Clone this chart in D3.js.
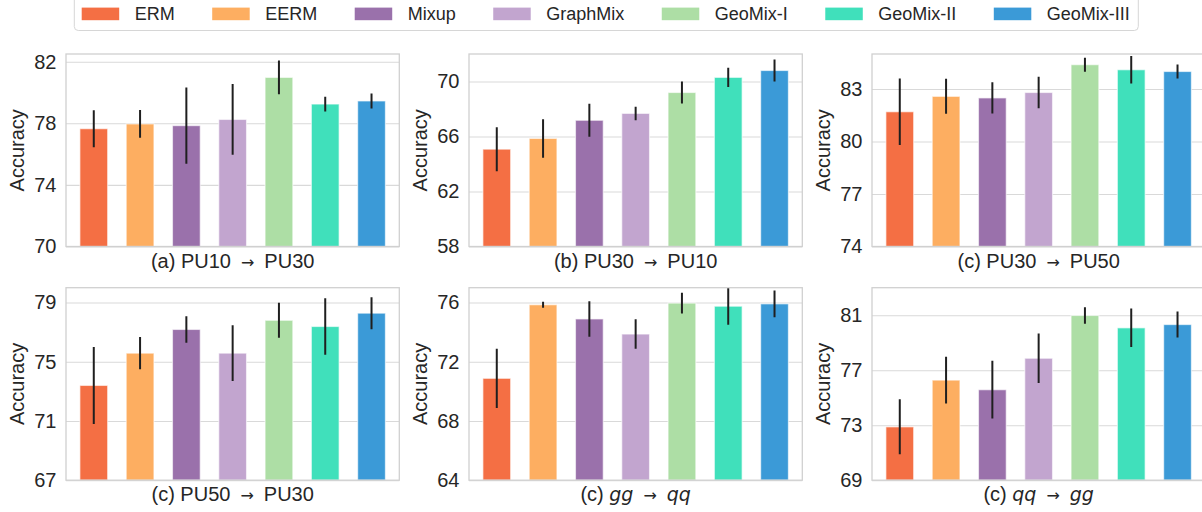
<!DOCTYPE html>
<html>
<head>
<meta charset="utf-8">
<script src="https://cdn.jsdelivr.net/npm/d3@7"></script>
<style>
  html, body { margin: 0; padding: 0; background: #ffffff; }
  svg { display: block; }
  text { font-family: "Liberation Sans", Arial, sans-serif; fill: #262626; }
</style>
</head>
<body>
<svg id="chart" width="1202" height="512"></svg>
<script>
// ---------------- data ----------------
const methods = ["ERM", "EERM", "Mixup", "GraphMix", "GeoMix-I", "GeoMix-II", "GeoMix-III"];

const meanA = [77.65, 77.96, 77.85, 78.25, 80.98, 79.25, 79.45];
const errA  = [1.2, 0.9, 2.47, 2.3, 1.1, 0.48, 0.49];
const meanB = [65.08, 65.86, 67.18, 67.68, 69.2, 70.3, 70.8];
const errB  = [1.6, 1.4, 1.2, 0.49, 0.8, 0.7, 0.8];
const meanC = [81.7, 82.58, 82.49, 82.8, 84.39, 84.1, 84.0];
const errC  = [1.9, 1.0, 0.89, 0.9, 0.4, 0.78, 0.4];
const meanD = [73.4, 75.58, 77.18, 75.58, 77.8, 77.38, 78.28];
const errD  = [2.6, 1.09, 0.9, 1.88, 1.18, 1.9, 1.08];
const meanE = [70.88, 75.85, 74.89, 73.87, 75.96, 75.75, 75.91];
const errE  = [2.0, 0.2, 1.2, 1.0, 0.7, 1.25, 0.9];
const meanF = [72.88, 76.28, 75.58, 77.87, 80.98, 80.08, 80.32];
const errF  = [2.0, 1.7, 2.1, 1.8, 0.6, 1.4, 0.95];

const yLimits = [[70, 82.5], [58, 72], [74, 85], [67, 80], [64, 77], [69, 83]];
const yTicks = [[70, 74, 78, 82], [58, 62, 66, 70], [74, 77, 80, 83],
                [67, 71, 75, 79], [64, 68, 72, 76], [69, 73, 77, 81]];

const labelPrefix = ["(a) ", "(b) ", "(c) ", "(c) ", "(c) ", "(c) "];
const labelSource = ["PU10", "PU30", "PU30", "PU50", "gg", "qq"];
const labelTarget = ["PU30", "PU10", "PU50", "PU30", "qq", "gg"];
const labelItalic = [false, false, false, false, true, true];

const yLabel = "Accuracy";

// ---------------- style / layout ----------------
const colors = ["#f46f44", "#fdae61", "#9a71ab", "#c2a5cf", "#addea5", "#40e0bb", "#3b9ad7"];
const colLeft = [66, 469, 872];
const rowTop = [54, 287.7];
const plotW = 333.3, plotH = 192.5;
const gridColor = "#d9d9d9";

const means = [meanA, meanB, meanC, meanD, meanE, meanF];
const errs = [errA, errB, errC, errD, errE, errF];

const svg = d3.select("#chart");
const defs = svg.append("defs");

means.forEach((mean, p) => {
  const left = colLeft[p % 3];
  const top = rowTop[Math.floor(p / 3)];
  const x = d3.scaleLinear().domain([-0.6, methods.length - 0.4]).range([left, left + plotW]);
  const y = d3.scaleLinear().domain(yLimits[p]).range([top + plotH, top]);
  const g = svg.append("g");

  defs.append("clipPath").attr("id", "clip" + p)
    .append("rect").attr("x", left).attr("y", top).attr("width", plotW).attr("height", plotH);

  // grid
  const grid = g.append("g").attr("transform", `translate(${left},0)`)
    .call(d3.axisLeft(y).tickValues(yTicks[p]).tickSize(-plotW).tickFormat(""));
  grid.select(".domain").remove();
  grid.selectAll("line").attr("stroke", gridColor).attr("stroke-width", 1.1);

  // bars
  const bw = 0.6;
  const data = methods.map((m, i) => ({ i, m, v: mean[i], e: errs[p][i] }));
  const plot = g.append("g").attr("clip-path", `url(#clip${p})`);
  plot.selectAll("rect.bar").data(data).enter().append("rect")
    .attr("class", "bar")
    .attr("x", d => x(d.i - bw / 2))
    .attr("width", d => x(d.i + bw / 2) - x(d.i - bw / 2))
    .attr("y", d => y(d.v))
    .attr("height", d => y(yLimits[p][0]) - y(d.v))
    .attr("fill", d => colors[d.i])
    .attr("stroke", "rgba(255,255,255,0.6)")
    .attr("stroke-width", 1.2);

  // error bars
  plot.selectAll("line.err").data(data).enter().append("line")
    .attr("class", "err")
    .attr("x1", d => x(d.i)).attr("x2", d => x(d.i))
    .attr("y1", d => y(d.v - d.e)).attr("y2", d => y(d.v + d.e))
    .attr("stroke", "#1f1f1f").attr("stroke-width", 2);

  // spines
  g.append("rect").attr("x", left).attr("y", top).attr("width", plotW).attr("height", plotH)
    .attr("fill", "none").attr("stroke", "#d0d0d0").attr("stroke-width", 1.3);

  // y axis tick labels
  const ax = g.append("g").attr("transform", `translate(${left},0)`)
    .call(d3.axisLeft(y).tickValues(yTicks[p]).tickSize(0).tickPadding(9.5).tickFormat(d3.format("d")));
  ax.select(".domain").remove();
  ax.selectAll("text").attr("font-size", 20)
    .attr("font-family", '"Liberation Sans", Arial, sans-serif').attr("fill", "#262626");

  // y label
  g.append("text")
    .attr("transform", `translate(${left - 41.7},${top + plotH / 2}) rotate(-90)`)
    .attr("text-anchor", "middle").attr("font-size", 20).text(yLabel);

  // x label
  const t = g.append("text").attr("x", left + plotW / 2).attr("y", top + plotH + 21)
    .attr("text-anchor", "middle").attr("font-size", 20);
  t.append("tspan").text(labelPrefix[p]);
  const it = labelItalic[p];
  t.append("tspan").text(labelSource[p])
    .attr("font-style", it ? "italic" : null)
    .attr("font-family", it ? '"DejaVu Sans", sans-serif' : null)
    .attr("font-size", it ? 19 : null);
  t.append("tspan").attr("dx", 10).attr("font-family", '"DejaVu Sans", sans-serif')
    .attr("font-size", 16).text("\u2192");
  t.append("tspan").attr("dx", 10).text(labelTarget[p])
    .attr("font-style", it ? "italic" : null)
    .attr("font-family", it ? '"DejaVu Sans", sans-serif' : null)
    .attr("font-size", it ? 19 : null);
});

// ---------------- legend ----------------
const lg = svg.append("g");
const box = lg.append("rect").attr("x", 74.3).attr("y", -4).attr("height", 34.5).attr("rx", 4)
  .attr("fill", "#ffffff").attr("stroke", "#d6d6d6").attr("stroke-width", 1);
let cx = 81.7;
methods.forEach((m, i) => {
  lg.append("rect").attr("x", cx).attr("y", 7.6).attr("width", 37.5).attr("height", 12.6)
    .attr("fill", colors[i]);
  const tx = lg.append("text").attr("x", cx + 53).attr("y", 20).attr("font-size", 18).text(m);
  const w = tx.node().getComputedTextLength();
  cx = cx + 53 + w + 37.5;
});
box.attr("width", cx - 37.5 + 8.5 - 74.3);
</script>
</body>
</html>
